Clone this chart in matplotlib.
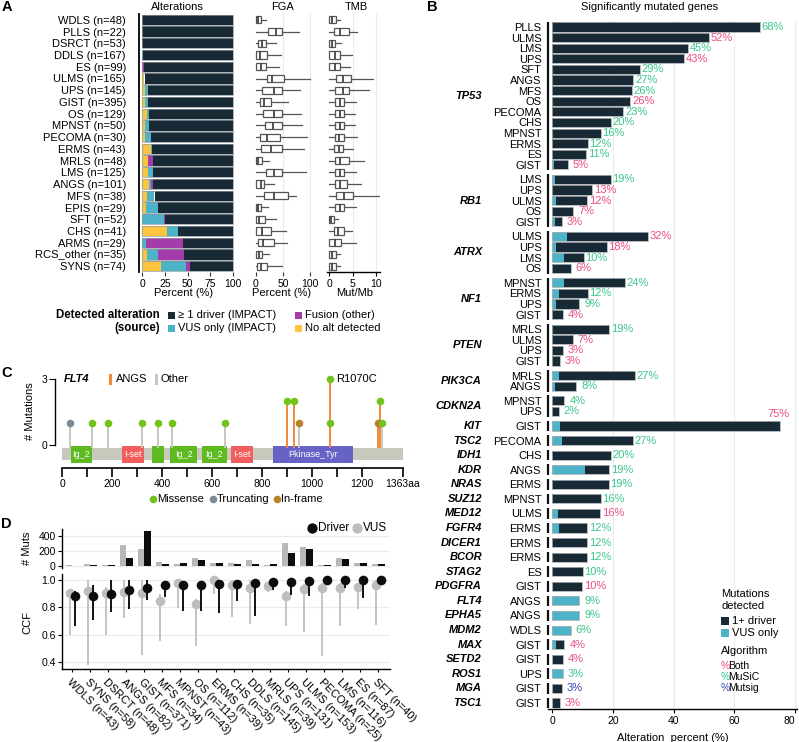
import numpy as np
import matplotlib
matplotlib.use('Agg')
import matplotlib.pyplot as plt
from matplotlib.patches import Rectangle

W, H = 799, 742
plt.rcParams['font.family'] = ['Liberation Sans', 'DejaVu Sans']
plt.rcParams['font.size'] = 8

# ---------------- data: panel A ----------------
a_types = ['WDLS', 'PLLS', 'DSRCT', 'DDLS', 'ES', 'ULMS', 'UPS', 'GIST', 'OS', 'MPNST', 'PECOMA',
           'ERMS', 'MRLS', 'LMS', 'ANGS', 'MFS', 'EPIS', 'SFT', 'CHS', 'ARMS', 'RCS_other', 'SYNS']
a_n = [48, 22, 53, 167, 99, 165, 145, 395, 129, 50, 30, 43, 48, 125, 101, 38, 29, 52, 41, 29, 35, 74]
a_noalt = [0, 0, 0, 0, 0, 1.8, 3.3, 2.6, 5.5, 2.6, 3.3, 9.6, 6, 6.2, 7.3, 5.2, 3.7, 0, 26.8, 0, 5.2, 20.2]
a_vus = [0, 0, 0, 0.8, 0, 0.8, 2.6, 3.6, 1.5, 5.1, 6.3, 1.4, 0, 6.2, 2.9, 8.4, 13.5, 23.8, 12.1, 3.7, 11.8, 27.5]
a_fusion = [0, 0, 0, 0, 2, 0, 0, 0, 0, 0, 0, 0, 5.8, 0, 2.2, 0, 0, 1.2, 0, 41, 28.8, 5]
a_driver = [100, 100, 100, 99.2, 98, 97.4, 94.1, 93.8, 93, 92.3, 90.4, 89, 88.2, 87.6, 87.6, 86.4,
            82.8, 75, 61.1, 55.3, 54.2, 47.3]

# FGA boxplot stats: low whisker, q1, median, q3, high whisker
fga_lo = [0] * 22
fga_q1 = [0.5, 22, 5, 0, 0, 20, 12, 8, 14, 17, 7, 10, 0, 18, 0, 15, 0, 0, 0, 5, 0, 2]
fga_med = [5, 37, 11, 7, 9, 30, 33, 16, 33, 32, 21, 29, 5, 33, 9, 34, 4, 6, 12, 13, 6, 9]
fga_q3 = [9, 48, 19, 20, 19, 52, 48, 29, 48, 49, 45, 48, 11, 49, 16, 60, 10, 17, 29, 34, 12, 20]
fga_hi = [19, 80, 37, 46, 42, 99, 82, 60, 83, 85, 94, 88, 25, 93, 34, 74, 23, 37, 56, 58, 25, 49]

tmb_lo = [0] * 22
tmb_q1 = [0, 1.1, 0, 0, 0, 1.4, 1.2, 1.2, 1.2, 1.2, 1.2, 1.1, 1.2, 1.2, 1.2, 1.4, 1.2, 0, 1.1, 0, 0, 0]
tmb_med = [0.5, 2.3, 0.5, 1.2, 1.2, 3.0, 3.0, 2.3, 2.3, 2.3, 2.1, 2.1, 2.3, 2.3, 2.3, 3.2, 2.3, 0.4, 1.9, 1.2, 0.5, 0.5]
tmb_q3 = [1.4, 4.1, 1.2, 2.3, 2.3, 4.6, 4.2, 3.2, 3.2, 3.2, 3.2, 3.0, 4.2, 3.2, 3.7, 5.1, 3.2, 1.1, 3.2, 2.5, 1.4, 1.4]
tmb_hi = [2.3, 5.9, 2.5, 4.8, 4.4, 9.4, 8.4, 5.7, 5.5, 5.5, 5.9, 5.1, 7.3, 5.7, 6.8, 10.5, 5.7, 1.9, 4.9, 5.7, 2.3, 2.3]

# ---------------- data: panel B ----------------
b_gene = (['TP53'] * 14 + ['RB1'] * 5 + ['ATRX'] * 4 + ['NF1'] * 4 + ['PTEN'] * 4 + ['PIK3CA'] * 2 +
          ['CDKN2A'] * 2 + ['KIT', 'TSC2', 'IDH1', 'KDR', 'NRAS', 'SUZ12', 'MED12', 'FGFR4', 'DICER1',
                            'BCOR', 'STAG2', 'PDGFRA', 'FLT4', 'EPHA5', 'MDM2', 'MAX', 'SETD2', 'ROS1',
                            'MGA', 'TSC1'])
b_type = ['PLLS', 'ULMS', 'LMS', 'UPS', 'SFT', 'ANGS', 'MFS', 'OS', 'PECOMA', 'CHS', 'MPNST', 'ERMS', 'ES', 'GIST',
          'LMS', 'UPS', 'ULMS', 'OS', 'GIST',
          'ULMS', 'UPS', 'LMS', 'OS',
          'MPNST', 'ERMS', 'UPS', 'GIST',
          'MRLS', 'ULMS', 'UPS', 'GIST',
          'MRLS', 'ANGS',
          'MPNST', 'UPS',
          'GIST', 'PECOMA', 'CHS', 'ANGS', 'ERMS', 'MPNST', 'ULMS', 'ERMS', 'ERMS', 'ERMS', 'ES', 'GIST',
          'ANGS', 'ANGS', 'WDLS', 'GIST', 'GIST', 'UPS', 'GIST', 'GIST']
b_total = [68.5, 51.7, 44.9, 43.6, 28.9, 26.8, 26.4, 25.8, 23.5, 19.5, 16, 11.7, 11.2, 5.3,
           19.3, 13.2, 11.6, 7, 3.3,
           31.6, 18, 10.4, 6.2,
           24.1, 11.7, 9, 3.6,
           18.8, 6.8, 3.5, 2.6,
           27.2, 8,
           4.1, 2.2,
           75.2, 26.7, 19.5, 18.8, 18.6, 16, 15.8, 11.6, 11.6, 11.6, 10.1, 9.9,
           9, 9, 6.2, 4.1, 3.7, 3.5, 3.3, 2.5]
b_vus = [0, 0, 0, 0, 0, 0, 0, 0, 0, 0, 0, 0, 0, 0.7,
         0.9, 0, 1.3, 0, 1,
         4.9, 1.4, 3.9, 0,
         4.1, 2.4, 1.4, 0,
         0, 0, 0, 0,
         2.2, 1.1,
         0, 0,
         2.6, 3.4, 0, 11, 0, 0, 1.9, 2.4, 0, 0, 0, 0.4,
         9, 9, 6.2, 1.3, 0.4, 3.5, 0.2, 0.4]
b_label = [68, 52, 45, 43, 29, 27, 26, 26, 23, 20, 16, 12, 11, 5,
           19, 13, 12, 7, 3,
           32, 18, 10, 6,
           24, 12, 9, 4,
           19, 7, 3, 3,
           27, 8,
           4, 2,
           75, 27, 20, 19, 19, 16, 16, 12, 12, 12, 10, 10,
           9, 9, 6, 4, 4, 3, 3, 3]
b_algo = ['MuSiC', 'Both', 'MuSiC', 'Both', 'MuSiC', 'MuSiC', 'MuSiC', 'Both', 'MuSiC', 'MuSiC', 'MuSiC',
          'MuSiC', 'MuSiC', 'Both',
          'MuSiC', 'Both', 'Both', 'Both', 'Both',
          'Both', 'Both', 'MuSiC', 'Both',
          'MuSiC', 'MuSiC', 'MuSiC', 'Both',
          'MuSiC', 'Both', 'Both', 'Both',
          'MuSiC', 'MuSiC',
          'MuSiC', 'MuSiC',
          'Both', 'MuSiC', 'MuSiC', 'MuSiC', 'MuSiC', 'MuSiC', 'Both', 'MuSiC', 'MuSiC', 'MuSiC', 'MuSiC', 'Both',
          'MuSiC', 'MuSiC', 'MuSiC', 'Both', 'Both', 'MuSiC', 'Mutsig', 'Both']

# ---------------- data: panel C ----------------
c_dom_name = ['Ig_2', 'I-set', '', 'Ig_2', 'Ig_2', 'I-set', 'Pkinase_Tyr']
c_dom_start = [35, 239, 360, 431, 559, 675, 842]
c_dom_end = [117, 327, 408, 540, 658, 762, 1164]
c_mut_pos = [31, 120, 181, 319, 383, 439, 651, 899, 927, 948, 1070, 1070, 1264, 1270, 1279]
c_mut_count = [1, 1, 1, 1, 1, 1, 1, 2, 2, 1, 3, 1, 1, 2, 1]
c_mut_type = ['Truncating', 'Missense', 'Missense', 'Missense', 'Missense', 'Missense', 'Missense',
              'Missense', 'Missense', 'In-frame', 'Missense', 'Missense', 'In-frame', 'Missense', 'Missense']
c_mut_group = ['Other', 'Other', 'Other', 'Other', 'Other', 'Other', 'Other',
               'ANGS', 'ANGS', 'Other', 'ANGS', 'ANGS', 'ANGS', 'ANGS', 'Other']

# ---------------- data: panel D ----------------
d_types = ['WDLS', 'SYNS', 'DSRCT', 'ANGS', 'GIST', 'MFS', 'MPNST', 'OS', 'ERMS', 'CHS', 'DDLS', 'MRLS',
           'UPS', 'ULMS', 'PECOMA', 'LMS', 'ES', 'SFT']
d_n = [43, 58, 48, 82, 371, 34, 43, 112, 39, 35, 145, 39, 131, 153, 25, 116, 87, 40]
d_muts_vus = [12, 30, 18, 277, 233, 53, 26, 114, 40, 40, 79, 9, 303, 255, 13, 110, 40, 26]
d_muts_drv = [8, 18, 18, 114, 466, 26, 40, 75, 48, 26, 31, 31, 171, 224, 18, 101, 44, 31]
d_ccf_drv = [0.88, 0.883, 0.895, 0.924, 0.939, 0.963, 0.96, 0.963, 0.97, 0.97, 0.98, 0.983, 0.983, 0.995,
             1.0, 1.0, 1.0, 1.0]
d_ccf_drv_lo = [0.665, 0.707, 0.763, 0.788, 0.854, 0.878, 0.773, 0.773, 0.758, 0.846, 0.739, 0.927, 0.89,
                0.885, 0.976, 0.94, 0.866, 0.976]
d_ccf_drv_hi = [0.92, 0.963, 1.0, 1.0, 1.0, 0.99, 0.99, 0.99, 0.99, 0.99, 0.99, 0.99, 0.99, 1.0, 1.0, 1.0,
                1.0, 1.0]
d_ccf_vus = [0.907, 0.922, 0.907, 0.912, 0.907, 0.849, 0.976, 0.824, 1.0, 0.963, 0.944, 0.956, 0.883, 0.932,
             0.939, 0.939, 0.951, 0.963]
d_ccf_vus_lo = [0.598, 0.378, 0.598, 0.72, 0.45, 0.556, 0.793, 0.52, 0.9, 0.73, 0.678, 0.915, 0.666, 0.617,
                0.444, 0.666, 0.785, 0.675]
d_ccf_vus_hi = [0.93, 1.0, 0.95, 1.0, 1.0, 0.9, 1.0, 0.86, 1.0, 1.0, 1.0, 0.98, 0.92, 0.97, 0.98, 0.98,
                0.98, 1.0]

# ---------------- colours ----------------
DARK = '#172a36'
VUSC = '#4db3c9'
FUSC = '#a43ca9'
NOALTC = '#fcc43f'
ALGO_COL = {'Both': '#ea4d80', 'MuSiC': '#3cc68d', 'Mutsig': '#3446b4'}
TYPE_COL = {'Missense': '#72c31b', 'Truncating': '#7b8a97', 'In-frame': '#b6822a'}
GROUP_COL = {'ANGS': '#f2883a', 'Other': '#c9c8bd'}
DOM_COL = {'Ig_2': '#5dba1f', 'I-set': '#f25e5e', '': '#5dba1f', 'Pkinase_Tyr': '#6762c6'}
GRID = '#ebebeb'

fig = plt.figure(figsize=(W / 100, H / 100), dpi=100)


def px_axes(l, t, r, b, **kw):
    return fig.add_axes([l / W, 1 - b / H, (r - l) / W, (b - t) / H], **kw)


def clean(ax):
    for s in ax.spines.values():
        s.set_visible(False)


# ================= panel A =================
yA = np.arange(len(a_types))
axA = px_axes(138.5, 14, 233.5, 272)
clean(axA)
left = np.zeros(len(a_types))
for vals, col in [(a_noalt, NOALTC), (a_vus, VUSC), (a_fusion, FUSC), (a_driver, DARK)]:
    axA.barh(yA, vals, left=left, height=0.88, color=col, linewidth=0)
    left += np.array(vals)
axA.barh(yA, left, height=0.88, fill=False, edgecolor='#8f989e', linewidth=0.5)
axA.set_xlim(-4, 100.5)
axA.set_ylim(21.5, -0.5)
axA.spines['left'].set_visible(True)
axA.spines['left'].set_linewidth(1.3)
axA.set_yticks(yA)
axA.set_yticklabels([f'{t} (n={n})' for t, n in zip(a_types, a_n)], fontsize=8)
axA.tick_params(axis='y', length=0, pad=9)
axA.set_xticks([0, 25, 50, 75, 100])
axA.tick_params(axis='x', length=3, labelsize=7.5, pad=2, color='#333333')

statsF = [dict(whislo=a, q1=b, med=c, q3=d, whishi=e)
          for a, b, c, d, e in zip(fga_lo, fga_q1, fga_med, fga_q3, fga_hi)]
statsT = [dict(whislo=a, q1=b, med=c, q3=d, whishi=e)
          for a, b, c, d, e in zip(tmb_lo, tmb_q1, tmb_med, tmb_q3, tmb_hi)]
box_kw = dict(positions=yA, widths=0.62, vert=False, showfliers=False, showcaps=False,
              patch_artist=True,
              boxprops=dict(facecolor='white', edgecolor='#555555', linewidth=0.9),
              medianprops=dict(color='#444444', linewidth=1.3),
              whiskerprops=dict(color='#555555', linewidth=0.9))

axF = px_axes(253.3, 14, 312.5, 272)
clean(axF)
for g in [50, 100]:
    axF.axvline(g, color=GRID, lw=0.8, zorder=0)
axF.bxp(statsF, **box_kw)
axF.set_xlim(-4.5, 104.5)
axF.set_ylim(21.5, -0.5)
axF.set_yticks([])
axF.set_xticks([0, 50, 100])
axF.tick_params(axis='x', length=3, labelsize=7.5, pad=2, color='#333333')

axT = px_axes(327, 14, 380, 272)
clean(axT)
for g in [5, 10]:
    axT.axvline(g, color=GRID, lw=0.8, zorder=0)
axT.bxp(statsT, **box_kw)
axT.set_xlim(-0.5, 10.82)
axT.set_ylim(21.5, -0.5)
axT.set_yticks([])
axT.set_xticks([0, 5, 10])
axT.spines['bottom'].set_visible(True)
axT.spines['bottom'].set_linewidth(1.0)
axT.tick_params(axis='x', length=3, labelsize=7.5, pad=2)

# ================= panel B =================
ypos = []
pos = 0.0
for i, g in enumerate(b_gene):
    if i > 0 and g != b_gene[i - 1]:
        pos += 0.375
    ypos.append(pos)
    pos += 1
ypos = np.array(ypos)

axB = px_axes(548.4, 21, 797, 709)
clean(axB)
for g in [20, 40, 60, 80]:
    axB.axvline(g, color=GRID, lw=0.8, zorder=0)
tot = np.array(b_total)
vus = np.array(b_vus)
axB.barh(ypos, vus, height=0.86, color=VUSC, linewidth=0, zorder=2)
axB.barh(ypos, tot - vus, left=vus, height=0.86, color=DARK, linewidth=0, zorder=2)
axB.barh(ypos, tot, height=0.86, fill=False, edgecolor='#a9aeb2', linewidth=0.6, zorder=3)
axB.set_xlim(-1.2, 80.66)
axB.set_ylim(64.32, -0.57)
axB.set_yticks(ypos)
axB.set_yticklabels(b_type, fontsize=8)
axB.tick_params(axis='y', length=0, pad=5)
axB.set_xticks([0, 20, 40, 60, 80])
axB.spines['bottom'].set_visible(True)
axB.spines['bottom'].set_linewidth(1.0)
axB.tick_params(axis='x', length=3, labelsize=7.5, pad=2)
axB.get_xticklabels()[-1].set_horizontalalignment('right')
axB.set_xlabel('Alteration  percent (%)', fontsize=8, labelpad=5)

genes_order = []
for g in b_gene:
    if g not in genes_order:
        genes_order.append(g)
for g in genes_order:
    rows = ypos[[i for i, x in enumerate(b_gene) if x == g]]
    axB.plot([-1.2, -1.2], [rows.min() - 0.5, rows.max() + 0.5], color='#111111', lw=1.6,
             clip_on=False, solid_capstyle='butt', zorder=4)
    axB.text(-23.05, rows.mean(), g, ha='right', va='center', fontsize=8,
             fontweight='bold', fontstyle='italic', clip_on=False)

for y, t, lab, alg in zip(ypos, tot, b_label, b_algo):
    if t > 72:
        axB.text(t - 0.5, y - 1.15, f'{lab}%', ha='center', va='center', fontsize=8,
                 color=ALGO_COL[alg], clip_on=False)
    else:
        axB.text(t + 4.2, y, f'{lab}%', ha='center', va='center', fontsize=8,
                 color=ALGO_COL[alg], clip_on=False)

# ================= panel C =================
axC = px_axes(62.3, 372.4, 403, 467.7)
clean(axC)
axC.set_xlim(0, 1363)
axC.set_ylim(-1.03, 3.3)
axC.add_patch(Rectangle((0, -0.68), 1363, 0.54, color='#c9c8bd', lw=0, zorder=1))
for name, s, e in zip(c_dom_name, c_dom_start, c_dom_end):
    axC.add_patch(Rectangle((s, -0.82), e - s, 0.77, color=DOM_COL[name], lw=0, zorder=2))
    if name:
        axC.text((s + e) / 2, -0.43, name, ha='center', va='center', color='white',
                 fontsize=6.5, zorder=3)
order = np.argsort(c_mut_count)[::-1]
for i in order:
    axC.plot([c_mut_pos[i], c_mut_pos[i]], [-0.14, c_mut_count[i]], color=GROUP_COL[c_mut_group[i]],
             lw=1.4, zorder=3, solid_capstyle='butt')
for i in order:
    axC.scatter(c_mut_pos[i], c_mut_count[i], s=30, color=TYPE_COL[c_mut_type[i]], zorder=5,
                linewidths=0, clip_on=False)
axC.text(1095, 3, 'R1070C', ha='left', va='center', fontsize=8)
axC.spines['left'].set_visible(True)
axC.spines['left'].set_position(('outward', 5))
axC.spines['left'].set_bounds(0, 3)
axC.spines['left'].set_linewidth(1.0)
axC.set_yticks([0, 3])
axC.tick_params(axis='y', length=4, labelsize=7.5, pad=1.5)
axC.spines['bottom'].set_visible(True)
axC.spines['bottom'].set_bounds(0, 1363)
axC.spines['bottom'].set_linewidth(1.2)
xt = list(range(0, 1300, 100)) + [1363]
axC.set_xticks(xt)
axC.set_xticklabels([str(v) if v % 200 == 0 else '' for v in xt[:-1]] + ['1363aa'])
axC.tick_params(axis='x', length=6.5, width=1.2, labelsize=7.5, pad=1.5)

# ================= panel D =================
xd = np.arange(len(d_types))
axD1 = px_axes(62, 529, 390, 568)
clean(axD1)
for g in [0, 200, 400]:
    axD1.axhline(g, color=GRID, lw=0.8, zorder=0)
axD1.bar(xd - 0.185, d_muts_vus, width=0.37, color='#b8b8b8', linewidth=0, zorder=2)
axD1.bar(xd + 0.185, d_muts_drv, width=0.37, color='#0d0d0d', linewidth=0, zorder=2)
axD1.set_xlim(-0.57, 17.65)
axD1.set_ylim(-25, 493)
axD1.set_xticks([])
axD1.set_yticks([0, 200, 400])
axD1.spines['left'].set_visible(True)
axD1.spines['left'].set_linewidth(1.0)
axD1.tick_params(axis='y', length=3, labelsize=7.5, pad=1.5)

axD2 = px_axes(62, 574, 390, 669)
clean(axD2)
for g in [0.4, 0.6, 0.8, 1.0]:
    axD2.axhline(g, color=GRID, lw=0.8, zorder=0)
axD2.vlines(xd - 0.15, d_ccf_vus_lo, d_ccf_vus_hi, color='#c4c4c4', lw=1.4, zorder=2)
axD2.scatter(xd - 0.15, d_ccf_vus, s=48, color='#bdbdbd', linewidths=0, zorder=3, clip_on=False)
axD2.vlines(xd + 0.15, d_ccf_drv_lo, d_ccf_drv_hi, color='#111111', lw=1.4, zorder=4)
axD2.scatter(xd + 0.15, d_ccf_drv, s=48, color='#0d0d0d', linewidths=0, zorder=5, clip_on=False)
axD2.set_xlim(-0.57, 17.65)
axD2.set_ylim(0.35, 1.044)
axD2.set_yticks([0.4, 0.6, 0.8, 1.0])
axD2.set_yticklabels(['0.4', '0.6', '0.8', '1.0'])
axD2.spines['left'].set_visible(True)
axD2.spines['bottom'].set_visible(True)
axD2.spines['left'].set_linewidth(1.0)
axD2.spines['bottom'].set_linewidth(1.0)
axD2.tick_params(axis='y', length=3, labelsize=7.5, pad=1.5)
axD2.set_xticks(xd)
axD2.set_xticklabels([f'{t} (n={n})' for t, n in zip(d_types, d_n)], rotation=-45, ha='left',
                     va='top', rotation_mode='anchor', fontsize=8)
axD2.tick_params(axis='x', length=2.5, pad=3)

# ================= overlay: titles, legends, panel letters =================
ov = fig.add_axes([0, 0, 1, 1], zorder=10)
ov.set_xlim(0, W)
ov.set_ylim(H, 0)
ov.axis('off')

for letter, x, y in [('A', 2, 7), ('B', 427, 7), ('C', 1, 373), ('D', 1, 524)]:
    ov.text(x, y, letter, fontsize=10.5, fontweight='bold', ha='left', va='center')

ov.text(177, 7, 'Alterations', ha='center', va='center', fontsize=8)
ov.text(282.5, 7, 'FGA', ha='center', va='center', fontsize=8)
ov.text(356, 7, 'TMB', ha='center', va='center', fontsize=8)
ov.text(650, 7, 'Significantly mutated genes', ha='center', va='center', fontsize=8)
ov.text(184, 293, 'Percent (%)', ha='center', va='center', fontsize=8)
ov.text(282, 293, 'Percent (%)', ha='center', va='center', fontsize=8)
ov.text(354.5, 293, 'Mut/Mb', ha='center', va='center', fontsize=8)

# legend A
ov.text(160, 315, 'Detected alteration', ha='right', va='center', fontsize=8.3, fontweight='bold')
ov.text(160, 328, '(source)', ha='right', va='center', fontsize=8.3, fontweight='bold')
for (x, y, col, lab) in [(168, 315, DARK, '≥ 1 driver (IMPACT)'), (168, 328, VUSC, 'VUS only (IMPACT)'),
                         (295, 315, FUSC, 'Fusion (other)'), (295, 328, NOALTC, 'No alt detected')]:
    ov.add_patch(Rectangle((x, y - 3.5), 7, 7, color=col, lw=0))
    ov.text(x + 10, y, lab, ha='left', va='center', fontsize=8)

# legend B
ov.text(721, 594, 'Mutations', ha='left', va='center', fontsize=8)
ov.text(721, 606, 'detected', ha='left', va='center', fontsize=8)
for y, col, lab in [(621, DARK, '1+ driver'), (633, VUSC, 'VUS only')]:
    ov.add_patch(Rectangle((721, y - 4), 8, 8, color=col, lw=0))
    ov.text(732, y, lab, ha='left', va='center', fontsize=8)
ov.text(721, 651, 'Algorithm', ha='left', va='center', fontsize=8)
for y, alg in [(666, 'Both'), (677, 'MuSiC'), (688, 'Mutsig')]:
    ov.text(720.5, y, '%', ha='left', va='center', fontsize=7.5, color=ALGO_COL[alg])
    ov.text(728.5, y, alg, ha='left', va='center', fontsize=7.5)

# legend C
ov.text(64, 379, 'FLT4', ha='left', va='center', fontsize=8, fontweight='bold', fontstyle='italic')
ov.add_patch(Rectangle((109, 373.5), 3, 11, color=GROUP_COL['ANGS'], lw=0))
ov.text(115.5, 379, 'ANGS', ha='left', va='center', fontsize=8)
ov.add_patch(Rectangle((155, 373.5), 3, 11, color=GROUP_COL['Other'], lw=0))
ov.text(160.5, 379, 'Other', ha='left', va='center', fontsize=8)
ov.text(30, 411, '# Mutations', rotation=90, ha='center', va='center', fontsize=8)
for x, t in [(153, 'Missense'), (213, 'Truncating'), (277, 'In-frame')]:
    ov.scatter(x, 499, s=30, color=TYPE_COL[t], linewidths=0)
    ov.text(x + 4, 499, t, ha='left', va='center', fontsize=8)

# legend D
ov.text(27, 548, '# Muts', rotation=90, ha='center', va='center', fontsize=8)
ov.text(27, 622, 'CCF', rotation=90, ha='center', va='center', fontsize=8)
ov.scatter(312, 528, s=55, color='#0d0d0d', linewidths=0)
ov.text(318, 528, 'Driver', ha='left', va='center', fontsize=8.5)
ov.scatter(357, 528, s=55, color='#bdbdbd', linewidths=0)
ov.text(363, 528, 'VUS', ha='left', va='center', fontsize=8.5)

fig.savefig('out.png', dpi=100)
